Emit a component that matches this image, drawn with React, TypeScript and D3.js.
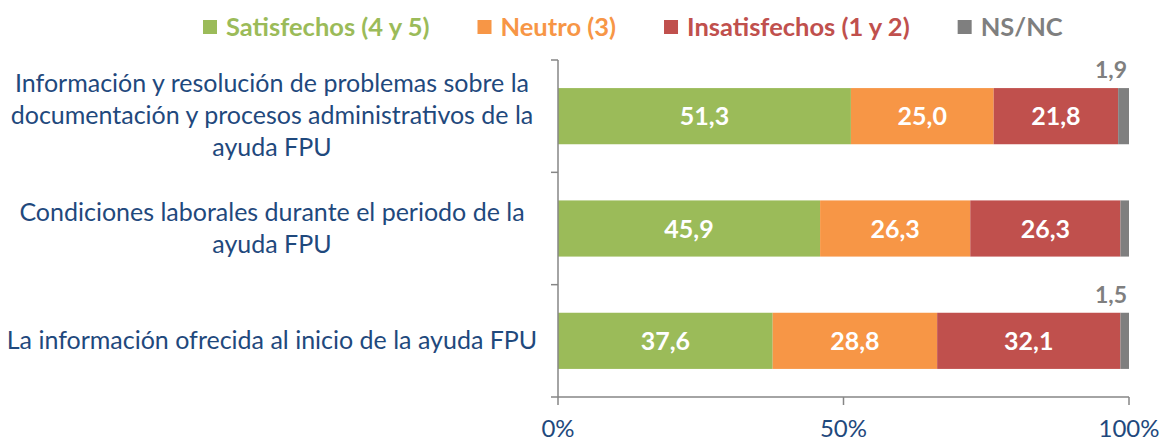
import React, { useEffect, useRef } from "react";
import * as d3 from "d3";

const categories = [
  "Información y resolución de problemas sobre la|documentación y procesos administrativos de la|ayuda FPU",
  "Condiciones laborales durante el periodo de la|ayuda FPU",
  "La información ofrecida al inicio de la ayuda FPU",
];
const seriesNames = ["Satisfechos (4 y 5)", "Neutro (3)", "Insatisfechos (1 y 2)", "NS/NC"];
const seriesColors = ["#9BBB59", "#F79646", "#C0504D", "#7F7F7F"];
const satisfechos = [51.3, 45.9, 37.6];
const neutro = [25.0, 26.3, 28.8];
const insatisfechos = [21.8, 26.3, 32.1];
const nsnc = [1.9, 1.5, 1.5];
const nsncLabels = ["1,9", null, "1,5"];
const xTicks = [0, 50, 100];

const W = 1164;
const H = 443;
const FONT = "Lato, 'Open Sans', sans-serif";
const BLUE = "#1F497D";
const AXIS = "#868686";

export default function App() {
  const ref = useRef<SVGSVGElement | null>(null);

  useEffect(() => {
    const svg = d3.select(ref.current);
    svg.selectAll("*").remove();

    const x = d3.scaleLinear().domain([0, 100]).range([558, 1129]);
    const y = d3.scaleBand<number>().domain(d3.range(categories.length)).range([60, 397]).padding(0);
    const barH = y.bandwidth() * 0.5;

    const series = [satisfechos, neutro, insatisfechos, nsnc];
    const rows = categories.map((c, i) => {
      let acc = 0;
      return series.map((s, k) => {
        const seg = { k, x0: acc, x1: acc + s[i], v: s[i], i };
        acc += s[i];
        return seg;
      });
    });

    // bars
    const g = svg.append("g");
    rows.forEach((segs) => {
      segs.forEach((s) => {
        const yc = (y(s.i) as number) + y.bandwidth() / 2;
        g.append("rect")
          .attr("x", x(s.x0))
          .attr("y", yc - barH / 2)
          .attr("width", x(s.x1) - x(s.x0))
          .attr("height", barH)
          .attr("fill", seriesColors[s.k]);
        if (s.k < 3) {
          g.append("text")
            .attr("x", (x(s.x0) + x(s.x1)) / 2)
            .attr("y", yc + 9)
            .attr("text-anchor", "middle")
            .attr("fill", "#fff")
            .attr("font-family", FONT)
            .attr("font-weight", 700)
            .attr("font-size", 25)
            .text(s.v.toFixed(1).replace(".", ","));
        } else if (nsncLabels[s.i]) {
          g.append("text")
            .attr("x", x(100) - 2)
            .attr("y", yc - barH / 2 - 10)
            .attr("text-anchor", "end")
            .attr("fill", seriesColors[3])
            .attr("font-family", FONT)
            .attr("font-weight", 700)
            .attr("font-size", 23)
            .text(nsncLabels[s.i] as string);
        }
      });
    });

    // axes
    const ax = svg.append("g").attr("stroke", AXIS).attr("stroke-width", 1.5).attr("fill", "none");
    ax.append("line").attr("x1", x(0)).attr("x2", x(0)).attr("y1", 60).attr("y2", 397);
    ax.append("line").attr("x1", x(0)).attr("x2", x(100)).attr("y1", 397).attr("y2", 397);
    const boundaries = [...categories.map((_, i) => y(i) as number), 397];
    boundaries.forEach((b) => {
      ax.append("line").attr("x1", x(0) - 7).attr("x2", x(0)).attr("y1", b).attr("y2", b);
    });
    xTicks.forEach((t) => {
      ax.append("line").attr("x1", x(t)).attr("x2", x(t)).attr("y1", 397).attr("y2", 405);
      svg.append("text")
        .attr("x", x(t))
        .attr("y", 437)
        .attr("text-anchor", "middle")
        .attr("fill", BLUE)
        .attr("font-family", FONT)
        .attr("font-size", 24)
        .text(`${t}%`);
    });

    // category labels
    categories.forEach((c, i) => {
      const lines = c.split("|");
      const yc = (y(i) as number) + y.bandwidth() / 2;
      lines.forEach((ln, j) => {
        svg.append("text")
          .attr("x", 272)
          .attr("y", yc + (j - (lines.length - 1) / 2) * 32 + 8)
          .attr("text-anchor", "middle")
          .attr("fill", BLUE)
          .attr("font-family", FONT)
          .attr("font-size", 25)
          .text(ln);
      });
    });

    // legend
    let lx = 203;
    seriesNames.forEach((n, k) => {
      svg.append("rect").attr("x", lx).attr("y", 20).attr("width", 14).attr("height", 14).attr("fill", seriesColors[k]);
      const t = svg.append("text")
        .attr("x", lx + 23)
        .attr("y", 36)
        .attr("fill", seriesColors[k])
        .attr("font-family", FONT)
        .attr("font-weight", 700)
        .attr("font-size", 25.5)
        .text(n);
      const w = (t.node() as SVGTextElement).getComputedTextLength();
      lx = lx + 23 + w + 48;
    });
  }, []);

  return (
    <svg
      ref={ref}
      width={W}
      height={H}
      style={{ position: "absolute", left: 0, top: 0, background: "#fff" }}
    />
  );
}
